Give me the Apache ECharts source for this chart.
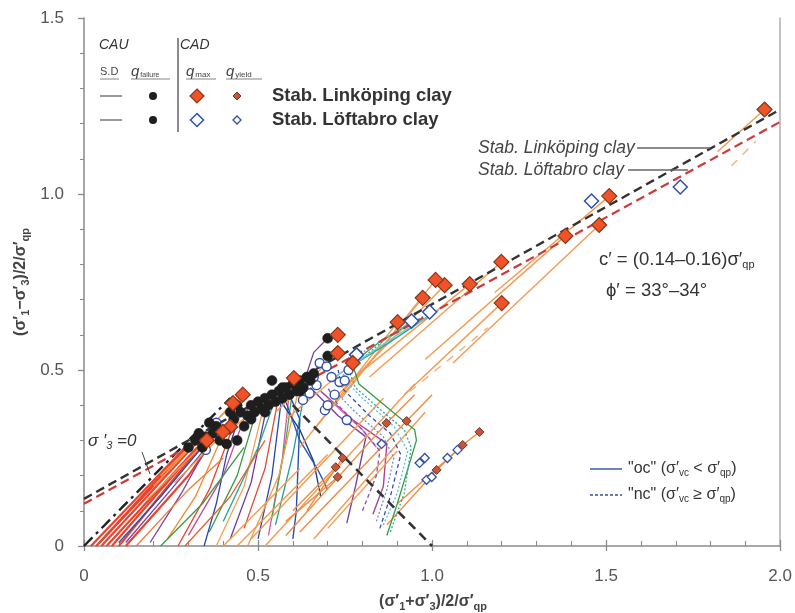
<!DOCTYPE html>
<html>
<head>
<meta charset="utf-8">
<script src="https://cdn.jsdelivr.net/npm/echarts@6/dist/echarts.min.js"></script>
<style>
  html, body { margin: 0; padding: 0; background: #ffffff; }
  #chart { width: 795px; height: 613px; }
</style>
</head>
<body>
<div id="chart"></div>
<script>
// ---------- axis ticks ----------
const xTickValues = [0, 0.5, 1.0, 1.5, 2.0];
const xTickLabels = ['0', '0.5', '1.0', '1.5', '2.0'];
const yTickValues = [0, 0.5, 1.0, 1.5];
const yTickLabels = ['0', '0.5', '1.0', '1.5'];

// ---------- strength envelopes and reference lines ----------
const envelopeLinkoping = [[0, 0.134], [2.0, 1.240]];
const envelopeLoftabro = [[0, 0.120], [2.0, 1.205]];
const sigma3ZeroLine = [[0, 0], [0.42, 0.42]];
const sigma1QpLine = [[0.60, 0.40], [1.00, 0.00]];

// ---------- CAU stress paths (solid, "oc") ----------
const cauRedPaths = [
  [[0.020, 0.00], [0.300, 0.290]],
  [[0.035, 0.00], [0.310, 0.285]],
  [[0.050, 0.00], [0.320, 0.290]],
  [[0.065, 0.00], [0.325, 0.280]],
  [[0.080, 0.00], [0.335, 0.290]],
  [[0.100, 0.00], [0.345, 0.295]],
  [[0.045, 0.01], [0.290, 0.275]],
  [[0.120, 0.00], [0.300, 0.200], [0.350, 0.270]]
];
const cauPaths = [
  [[0.10, 0.01], [0.22, 0.14], [0.33, 0.27]],
  [[0.12, 0.01], [0.25, 0.16], [0.36, 0.29]],
  [[0.19, 0.01], [0.28, 0.15], [0.38, 0.33]],
  [[0.24, 0.02], [0.32, 0.14], [0.41, 0.34]],
  [[0.27, 0.00], [0.36, 0.16], [0.44, 0.37]],
  [[0.345, 0.00], [0.38, 0.12], [0.41, 0.26], [0.45, 0.38]],
  [[0.30, 0.03], [0.40, 0.20], [0.47, 0.39]],
  [[0.36, 0.04], [0.44, 0.20], [0.50, 0.40]],
  [[0.38, 0.00], [0.46, 0.17], [0.52, 0.41]],
  [[0.42, 0.02], [0.48, 0.18], [0.53, 0.42]],
  [[0.40, 0.07], [0.50, 0.28], [0.55, 0.42]],
  [[0.46, 0.05], [0.52, 0.22], [0.56, 0.43]],
  [[0.50, 0.02], [0.54, 0.20], [0.57, 0.44]],
  [[0.53, 0.03], [0.57, 0.25], [0.59, 0.44]],
  [[0.54, 0.08], [0.58, 0.30], [0.60, 0.45]],
  [[0.47, 0.00], [0.56, 0.20], [0.62, 0.46]],
  [[0.15, 0.00], [0.30, 0.16], [0.40, 0.25]],
  [[0.22, 0.00], [0.34, 0.12], [0.46, 0.28]],
  [[0.29, 0.00], [0.42, 0.14], [0.52, 0.30]],
  [[0.55, 0.06], [0.60, 0.26], [0.64, 0.47]],
  [[0.62, 0.43], [0.66, 0.55], [0.70, 0.59]]
];
// paths turning down after the peak
const softeningPaths = [
  [[0.56, 0.42], [0.62, 0.33], [0.66, 0.24], [0.68, 0.14]],
  [[0.58, 0.41], [0.62, 0.30], [0.67, 0.22], [0.70, 0.16]],
  [[0.59, 0.43], [0.62, 0.36], [0.61, 0.10], [0.60, 0.02]],
  [[0.65, 0.45], [0.73, 0.37], [0.81, 0.31], [0.78, 0.17], [0.755, 0.065]],
  [[0.68, 0.44], [0.77, 0.36], [0.87, 0.29], [0.86, 0.17], [0.83, 0.09]],
  [[0.70, 0.42], [0.80, 0.33], [0.84, 0.28]]
];

// ---------- CAD stress paths, Linköping clay ----------
const cadLinkopingPaths = [
  [[0.62, 0.28], [0.901, 0.636]],
  [[0.66, 0.33], [0.973, 0.705]],
  [[0.72, 0.42], [1.036, 0.741]],
  [[0.74, 0.45], [1.108, 0.744]],
  [[0.82, 0.48], [1.199, 0.807]],
  [[0.92, 0.43], [1.200, 0.690]],
  [[0.98, 0.53], [1.383, 0.881]],
  [[1.06, 0.52], [1.480, 0.912]],
  [[1.18, 0.72], [1.509, 0.994]],
  [[1.82, 1.12], [1.955, 1.240]],
  [[0.74, 0.42], [1.010, 0.756]],
  [[0.22, 0.20], [0.456, 0.430]],
  [[0.20, 0.17], [0.428, 0.406]],
  [[0.26, 0.18], [0.420, 0.338]],
  [[0.18, 0.13], [0.353, 0.300]],
  [[0.42, 0.33], [0.603, 0.477]],
  [[0.55, 0.38], [0.729, 0.548]],
  [[0.58, 0.36], [0.772, 0.520]],
  [[0.48, 0.02], [0.86, 0.42]],
  [[0.52, 0.00], [0.95, 0.46]],
  [[0.66, 0.02], [0.98, 0.38]],
  [[0.70, 0.05], [0.90, 0.27]],
  [[0.40, 0.00], [0.62, 0.22]],
  [[0.44, 0.00], [0.70, 0.26]]
];
const cadYieldPaths = [
  [[0.58, 0.03], [0.869, 0.349], [0.95, 0.43]],
  [[0.62, 0.04], [0.927, 0.355], [1.00, 0.43]],
  [[0.87, 0.06], [1.013, 0.216], [1.088, 0.287], [1.136, 0.324]],
  [[0.64, 0.10], [0.743, 0.250]],
  [[0.60, 0.10], [0.723, 0.224]],
  [[0.58, 0.07], [0.729, 0.196]],
  [[0.90, 0.12], [1.073, 0.273]]
];
const cadFaintPaths = [
  [[0.90, 0.41], [1.16, 0.62]],
  [[1.86, 1.08], [1.93, 1.15]]
];

// ---------- Löftabro "nc" paths ----------
const loftabroNcPaths = [
  [[0.87, 0.03], [0.90, 0.12], [0.955, 0.30], [0.95, 0.33], [0.90, 0.37], [0.79, 0.46], [0.77, 0.52], [0.85, 0.58], [0.95, 0.64]],
  [[0.88, 0.04], [0.92, 0.15], [0.94, 0.28], [0.92, 0.33], [0.86, 0.38], [0.78, 0.45], [0.76, 0.50], [0.88, 0.60], [0.99, 0.66]],
  [[0.85, 0.05], [0.88, 0.14], [0.91, 0.26], [0.88, 0.32], [0.82, 0.37], [0.74, 0.45], [0.73, 0.50]],
  [[0.86, 0.06], [0.90, 0.15], [0.93, 0.27], [0.89, 0.34], [0.80, 0.42], [0.74, 0.48], [0.80, 0.55], [0.93, 0.63]],
  [[0.80, 0.10], [0.84, 0.20], [0.85, 0.27], [0.80, 0.33], [0.73, 0.40], [0.70, 0.45]],
  [[0.84, 0.07], [0.87, 0.16], [0.89, 0.25], [0.86, 0.31], [0.78, 0.38], [0.72, 0.44]]
];
const envelopeTrendPaths = [
  [[0.75, 0.50], [0.88, 0.58], [1.00, 0.66]],
  [[0.72, 0.48], [0.90, 0.60], [1.02, 0.67]]
];

// ---------- peak and yield points ----------
const qFailureCAU = [
  [0.30, 0.28], [0.32, 0.30], [0.34, 0.28], [0.35, 0.31], [0.37, 0.32], [0.38, 0.34],
  [0.40, 0.33], [0.41, 0.29], [0.43, 0.36], [0.44, 0.30], [0.45, 0.38], [0.47, 0.37],
  [0.48, 0.40], [0.49, 0.38], [0.50, 0.41], [0.51, 0.39], [0.52, 0.42], [0.53, 0.40],
  [0.54, 0.43], [0.54, 0.47], [0.55, 0.41], [0.56, 0.44], [0.57, 0.42], [0.58, 0.45],
  [0.59, 0.43], [0.60, 0.46], [0.61, 0.44], [0.62, 0.47], [0.63, 0.45], [0.64, 0.48],
  [0.65, 0.47], [0.66, 0.49], [0.70, 0.59], [0.70, 0.54], [0.46, 0.34], [0.42, 0.38],
  [0.39, 0.30], [0.36, 0.35], [0.44, 0.40], [0.48, 0.36], [0.52, 0.38], [0.57, 0.45],
  [0.33, 0.32], [0.62, 0.44]
];
const qMaxLinkoping = [
  [1.955, 1.240], [1.509, 0.994], [1.480, 0.912], [1.383, 0.881], [1.199, 0.807],
  [1.200, 0.690], [1.108, 0.744], [1.036, 0.741], [1.010, 0.756], [0.973, 0.705],
  [0.901, 0.636], [0.729, 0.600], [0.729, 0.548], [0.772, 0.520], [0.603, 0.477],
  [0.456, 0.430], [0.428, 0.406], [0.420, 0.338], [0.399, 0.324], [0.353, 0.300]
];
const qYieldLinkoping = [
  [0.869, 0.349], [0.927, 0.355], [1.136, 0.324], [1.088, 0.287], [1.013, 0.216],
  [0.743, 0.250], [0.723, 0.224], [0.729, 0.196]
];
const qMaxLoftabro = [
  [1.713, 1.020], [1.458, 0.980], [0.941, 0.639], [0.993, 0.665], [0.783, 0.543]
];
const qYieldLoftabro = [
  [0.964, 0.236], [0.979, 0.250], [0.984, 0.188], [0.999, 0.196], [1.044, 0.250],
  [1.073, 0.273], [0.855, 0.290]
];
const peakLoftabro = [
  [0.630, 0.457], [0.648, 0.434], [0.629, 0.415], [0.668, 0.457], [0.677, 0.520],
  [0.697, 0.510], [0.711, 0.480], [0.734, 0.466], [0.749, 0.470], [0.692, 0.386],
  [0.700, 0.400], [0.755, 0.358], [0.720, 0.430], [0.660, 0.480], [0.760, 0.500],
  [0.350, 0.273], [0.380, 0.350]
];

// ---------- drawing ----------
const cauPalette = ['#2850b0', '#7b3fa0', '#7b3fa0', '#f08a30', '#e8432d', '#2a48a8',
  '#c04a9a', '#3a9a48', '#f5a050', '#6a3a9a', '#2aa6a0', '#e04a3a', '#2a48a8',
  '#c85aa0', '#48a850', '#f29a48', '#f07a3a', '#3a9a48', '#e8602d', '#2a9a9a', '#7b3fa0'];
const softPalette = ['#1f3d8c', '#2a58b8', '#2850b0', '#7b3fa0', '#b0409a', '#e070a0'];
const ncPalette = ['#3a9a48', '#2aa6a0', '#3050b0', '#5cc0d0', '#8a50b0', '#6a90d8'];
const ncDash = ['solid', [2, 2], [4, 3], [2, 2], [4, 3], [2, 2]];

const fmt = v => { const i = xTickValues.indexOf(v); return i >= 0 ? xTickLabels[i] : ''; };
const fmtY = v => { const i = yTickValues.indexOf(v); return i >= 0 ? yTickLabels[i] : ''; };

function path(data, color, width, type, z, opacity) {
  return {
    type: 'line', data: data, symbol: 'none', silent: true, animation: false,
    xAxisIndex: 0, yAxisIndex: 0, z: z || 2,
    lineStyle: { color: color, width: width, type: type || 'solid', opacity: opacity == null ? 1 : opacity }
  };
}
function points(data, symbol, size, fill, stroke, bw, z) {
  return {
    type: 'scatter', data: data, symbol: symbol, symbolSize: size, silent: true,
    animation: false, xAxisIndex: 0, yAxisIndex: 0, z: z || 5,
    itemStyle: { color: fill, borderColor: stroke, borderWidth: bw, opacity: 1 }
  };
}

const series = [];
cauRedPaths.forEach(p => series.push(path(p, '#e8432d', 2.2, 'solid', 2)));
cauPaths.forEach((p, i) => series.push(path(p, cauPalette[i % cauPalette.length], 1.3, 'solid', 2)));
softeningPaths.forEach((p, i) => series.push(path(p, softPalette[i], 1.4, 'solid', 2)));
cadLinkopingPaths.forEach(p => series.push(path(p, '#f39a50', 1.4, 'solid', 2)));
cadYieldPaths.forEach(p => series.push(path(p, '#f08a40', 1.4, 'solid', 2)));
cadFaintPaths.forEach(p => series.push(path(p, '#f3b07a', 1.4, [8, 8], 2)));
loftabroNcPaths.forEach((p, i) => series.push(path(p, ncPalette[i], 1.3, ncDash[i], 2)));
envelopeTrendPaths.forEach((p, i) => series.push(path(p, i ? '#6cc8d0' : '#2aa690', 1.4, 'solid', 2)));

series.push(path(sigma3ZeroLine, '#222222', 2.4, [12, 5, 3, 5], 3));
series.push(path(sigma1QpLine, '#333333', 2.6, [9, 6], 3));
series.push(path(envelopeLoftabro, '#cc3a3a', 2.2, [9, 5], 3));
series.push(path(envelopeLinkoping, '#333333', 2.4, [9, 5], 3));

series.push(points(peakLoftabro, 'circle', 9, '#ffffff', '#3050a8', 1.4, 5));
series.push(points(qFailureCAU, 'circle', 10, '#1e1e1e', '#1e1e1e', 0.5, 6));
series.push(points(qYieldLinkoping, 'diamond', 9, '#c8553a', '#6a3a2a', 1, 6));
series.push(points(qYieldLoftabro, 'diamond', 9, '#ffffff', '#3050a8', 1.3, 6));
series.push(points(qMaxLoftabro, 'diamond', 14, '#ffffff', '#3050a8', 1.5, 7));
series.push(points(qMaxLinkoping, 'diamond', 15, '#f0522a', '#8a3518', 1.2, 7));

// ---------- annotation helpers ----------
function diamond(cx, cy, h, fill, stroke, lw) {
  return { type: 'polygon', shape: { points: [[cx, cy - h], [cx + h, cy], [cx, cy + h], [cx - h, cy]] },
    style: { fill: fill, stroke: stroke, lineWidth: lw }, z: 20 };
}
function seg(x1, y1, x2, y2, color, w, dash) {
  return { type: 'line', shape: { x1: x1, y1: y1, x2: x2, y2: y2 },
    style: { stroke: color, lineWidth: w, lineDash: dash || null }, z: 20 };
}
function txt(x, y, text, font, color, rich, align) {
  return { type: 'text', x: x, y: y, z: 20,
    style: { text: text, font: font, fill: color, align: align || 'left', verticalAlign: 'middle', rich: rich || {} } };
}
const font = 'Liberation Sans, Arial, sans-serif';

const graphics = [
  // top-left key
  txt(99, 45, 'CAU', 'italic 14px ' + font, '#333'),
  txt(180, 45, 'CAD', 'italic 14px ' + font, '#333'),
  seg(178, 38, 178, 132, '#666', 1.5),
  txt(100, 72, 'S.D', '11px ' + font, '#444'),
  seg(100, 79, 119, 79, '#666', 0.8),
  txt(131, 72, '{q|q}{s|failure}', 'italic 15px ' + font, '#444',
      { q: { font: 'italic 15px ' + font, fill: '#444' }, s: { fontSize: 7, padding: [6, 0, 0, 1], fill: '#444' } }),
  seg(131, 79, 170, 79, '#666', 0.8),
  txt(186, 72, '{q|q}{s|max}', 'italic 15px ' + font, '#444',
      { q: { font: 'italic 15px ' + font, fill: '#444' }, s: { fontSize: 8, padding: [6, 0, 0, 1], fill: '#444' } }),
  seg(186, 79, 216, 79, '#666', 0.8),
  txt(226, 72, '{q|q}{s|yield}', 'italic 15px ' + font, '#444',
      { q: { font: 'italic 15px ' + font, fill: '#444' }, s: { fontSize: 8, padding: [6, 0, 0, 1], fill: '#444' } }),
  seg(226, 79, 262, 79, '#666', 0.8),
  seg(100, 96, 122, 96, '#555', 1.2),
  seg(100, 120, 122, 120, '#555', 1.2),
  { type: 'circle', shape: { cx: 153, cy: 96, r: 4 }, style: { fill: '#1e1e1e' }, z: 20 },
  { type: 'circle', shape: { cx: 153, cy: 120, r: 4 }, style: { fill: '#1e1e1e' }, z: 20 },
  diamond(197, 96, 7, '#f0522a', '#8a3518', 1.2),
  diamond(197, 120, 6.5, '#ffffff', '#3050a8', 1.5),
  diamond(237, 96, 4, '#c8553a', '#6a3a2a', 1),
  diamond(237, 120, 4, '#ffffff', '#3050a8', 1.3),
  txt(272, 96, 'Stab. Linköping clay', 'bold 18.5px ' + font, '#333'),
  txt(272, 120, 'Stab. Löftabro clay', 'bold 18.5px ' + font, '#333'),

  // envelope labels
  txt(478, 148, 'Stab. Linköping clay', 'italic 17.5px ' + font, '#444'),
  seg(637, 148, 710, 148, '#666', 1.3),
  txt(478, 170, 'Stab. Löftabro clay', 'italic 17.5px ' + font, '#444'),
  seg(628, 170, 688, 170, '#666', 1.3),

  // strength parameters
  txt(599, 260, 'c′ = (0.14–0.16)σ′{s|qp}', '18.5px ' + font, '#333',
      { s: { fontSize: 11, padding: [10, 0, 0, 0], fill: '#333' } }),
  txt(606, 291, 'ϕ′ = 33°–34°', '18.5px ' + font, '#333'),

  // σ'3 = 0 label
  txt(88, 441, 'σ ′{s|3} =0', 'italic 17px ' + font, '#333',
      { s: { fontSize: 11, padding: [9, 0, 0, 0], fill: '#333', fontStyle: 'italic' } }),
  seg(142, 452, 150, 474, '#444', 1),

  // oc / nc key
  seg(590, 469, 622, 469, '#3050a8', 1.4),
  txt(628, 469, '"oc" (σ′{s|vc} < σ′{s|qp})', '16px ' + font, '#333',
      { s: { fontSize: 10, padding: [9, 0, 0, 0], fill: '#333' } }),
  seg(590, 495, 622, 495, '#3050a8', 1.4, [3, 2]),
  txt(628, 495, '"nc" (σ′{s|vc} ≥ σ′{s|qp})', '16px ' + font, '#333',
      { s: { fontSize: 10, padding: [9, 0, 0, 0], fill: '#333' } }),

  // axis titles
  txt(433, 602, '(σ′{s|1}+σ′{s|3})/2/σ′{s|qp}', 'bold 16px ' + font, '#444',
      { s: { fontSize: 11, fontWeight: 'bold', padding: [9, 0, 0, 0], fill: '#444' } }, 'center'),
  { type: 'text', x: 21, y: 282, rotation: Math.PI / 2, z: 20,
    style: { text: '(σ′{s|1}−σ′{s|3})/2/σ′{s|qp}', font: 'bold 16px ' + font, fill: '#444',
      align: 'center', verticalAlign: 'middle',
      rich: { s: { fontSize: 11, fontWeight: 'bold', padding: [9, 0, 0, 0], fill: '#444' } } } }
];

const axisColor = '#8a8a8a';
const option = {
  backgroundColor: '#ffffff',
  animation: false,
  grid: { left: 84, right: 13, top: 18, bottom: 67, containLabel: false },
  xAxis: [
    { type: 'value', min: 0, max: 2, interval: 0.5, position: 'bottom',
      axisLine: { show: true, lineStyle: { color: axisColor, width: 1.5 } },
      axisTick: { show: true, inside: false, length: 5, lineStyle: { color: axisColor, width: 1.3 } },
      minorTick: { show: false },
      axisLabel: { show: true, margin: 22, color: '#555', fontSize: 17, fontFamily: font, formatter: fmt },
      splitLine: { show: false } },
    { type: 'value', min: 0, max: 2, interval: 0.5, position: 'bottom',
      axisLine: { show: false },
      axisTick: { show: true, inside: true, length: 6, lineStyle: { color: axisColor, width: 1.3 } },
      minorTick: { show: true, splitNumber: 5, length: 5, lineStyle: { color: axisColor, width: 1.1 } },
      axisLabel: { show: false }, splitLine: { show: false } }
  ],
  yAxis: [
    { type: 'value', min: 0, max: 1.5, interval: 0.5, position: 'left',
      axisLine: { show: true, lineStyle: { color: axisColor, width: 1.5 } },
      axisTick: { show: true, inside: false, length: 6, lineStyle: { color: axisColor, width: 1.3 } },
      minorTick: { show: false },
      axisLabel: { show: true, margin: 20, color: '#555', fontSize: 17, fontFamily: font, formatter: fmtY },
      splitLine: { show: false } },
    { type: 'value', min: 0, max: 1.5, interval: 0.5, position: 'left',
      axisLine: { show: false },
      axisTick: { show: false },
      minorTick: { show: true, splitNumber: 5, length: 4, lineStyle: { color: axisColor, width: 1.1 } },
      axisLabel: { show: false }, splitLine: { show: false } },
    { type: 'value', min: 0, max: 1.5, interval: 0.5, position: 'right',
      axisLine: { show: true, onZero: false, lineStyle: { color: '#b0b0b0', width: 1.5 } },
      axisTick: { show: false }, axisLabel: { show: false }, splitLine: { show: false } }
  ],
  series: series,
  graphic: graphics
};

const chart = echarts.init(document.getElementById('chart'), null, { renderer: 'canvas' });
chart.setOption(option);
</script>
</body>
</html>
